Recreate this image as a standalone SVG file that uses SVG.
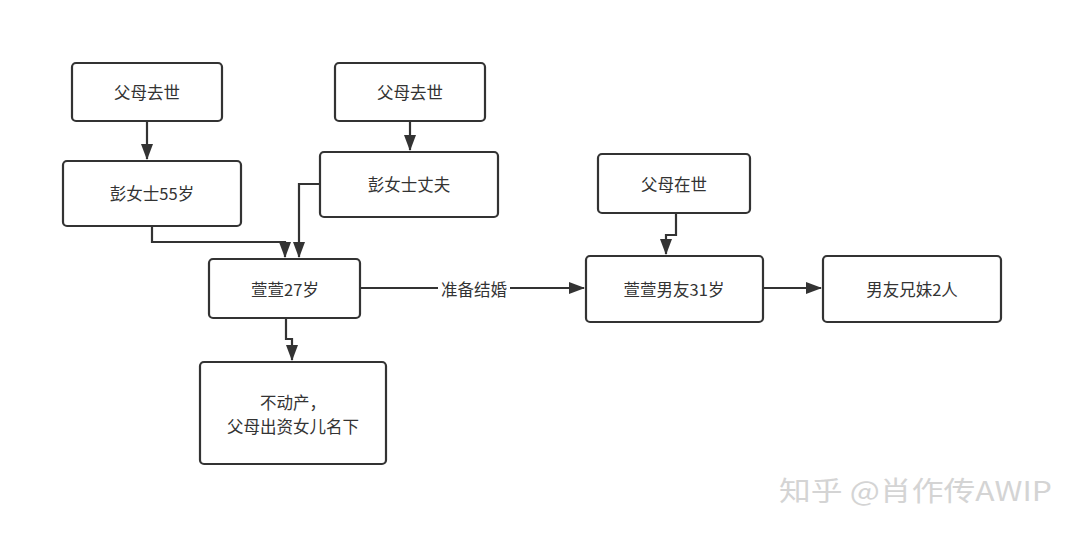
<svg xmlns="http://www.w3.org/2000/svg" width="1080" height="537" viewBox="0 0 1080 537">
<style>
.box{fill:#fff;stroke:#333;stroke-width:2.2}
.t{font-family:"Noto Sans CJK SC","Liberation Sans",sans-serif;font-size:16.5px;fill:#333;text-anchor:middle;dominant-baseline:central}
.c{fill:none;stroke:#333;stroke-width:2.2}
.wm{font-family:"Noto Sans CJK SC","Liberation Sans",sans-serif;font-size:27px;fill:#d4d4d4}
</style>
<defs>
<marker id="ah" viewBox="0 0 16 14" refX="15" refY="7" markerWidth="16" markerHeight="14" markerUnits="userSpaceOnUse" orient="auto">
<path d="M0,1 L16,7 L0,13 Z" fill="#333"/>
</marker>
</defs>
<rect width="1080" height="537" fill="#fff"/>
<g id="connectors">
<path class="c" d="M147,121 V159" marker-end="url(#ah)"/>
<path class="c" d="M410,121 V150" marker-end="url(#ah)"/>
<path class="c" d="M152,226 V242 H285 V257" marker-end="url(#ah)"/>
<path class="c" d="M320,184 H299 V257" marker-end="url(#ah)"/>
<path class="c" d="M286,318 V339 H292 V360" marker-end="url(#ah)"/>
<path class="c" d="M361,288 H438 M510,288 H584" marker-end="url(#ah)"/>
<text class="t" x="474" y="289">准备结婚</text>
<path class="c" d="M676,213 V235 H666 V254" marker-end="url(#ah)"/>
<path class="c" d="M763,288 H821" marker-end="url(#ah)"/>
</g>
<g id="n1"><rect class="box" x="72" y="63" width="150" height="58" rx="4"/><text class="t" x="147" y="92">父母去世</text></g>
<g id="n2"><rect class="box" x="63" y="161" width="178" height="65" rx="4"/><text class="t" x="152" y="193">彭女士55岁</text></g>
<g id="n3"><rect class="box" x="335" y="63" width="150" height="58" rx="4"/><text class="t" x="410" y="92">父母去世</text></g>
<g id="n4"><rect class="box" x="320" y="152" width="178" height="65" rx="4"/><text class="t" x="409" y="184">彭女士丈夫</text></g>
<g id="n5"><rect class="box" x="209" y="259" width="151" height="59" rx="4"/><text class="t" x="285" y="289">萱萱27岁</text></g>
<g id="n6"><rect class="box" x="200" y="362" width="186" height="102" rx="4"/><text class="t" x="293" y="402">不动产，</text><text class="t" x="293" y="426">父母出资女儿名下</text></g>
<g id="n7"><rect class="box" x="598" y="154" width="152" height="59" rx="4"/><text class="t" x="674" y="184">父母在世</text></g>
<g id="n8"><rect class="box" x="586" y="256" width="177" height="66" rx="4"/><text class="t" x="674" y="289">萱萱男友31岁</text></g>
<g id="n9"><rect class="box" x="823" y="256" width="178" height="66" rx="4"/><text class="t" x="912" y="289">男友兄妹2人</text></g>
<text class="wm" x="779" y="501" textLength="273" lengthAdjust="spacingAndGlyphs">知乎 @肖作传AWIP</text>
</svg>
